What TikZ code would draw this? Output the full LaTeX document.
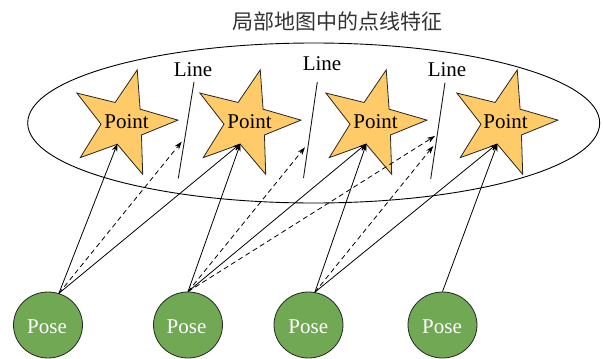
\documentclass[tikz,border=0pt]{standalone}
\usepackage{fontspec}
\setmainfont{Liberation Serif}
\newfontfamily\cjk{Noto Sans CJK SC}
\usetikzlibrary{shapes.geometric,arrows.meta,calc}
\definecolor{starfill}{RGB}{255,202,104}
\definecolor{posefill}{RGB}{112,168,84}
\begin{document}
\begin{tikzpicture}[x=1pt,y=-1pt,
  starbox/.style={star,star points=5,star point ratio=2.5,minimum size=110pt,inner sep=0pt,
    draw=black!85,fill=starfill,line width=0.8pt,shape border rotate=-15},
  posebox/.style={ellipse,minimum width=69pt,minimum height=66pt,inner sep=0pt,
    draw=black!85,fill=posefill,line width=0.8pt},
  txt/.style={font=\fontsize{21}{21}\selectfont,inner sep=0pt,anchor=base},
  linefeat/.style={line width=0.9pt,draw=black!90},
  solidarrow/.style={line width=0.8pt,-{Stealth[length=8pt,width=5.5pt]}},
  dasharrow/.style={line width=0.8pt,dash pattern=on 5pt off 3.5pt,-{Stealth[length=8pt,width=5.5pt]}}
]
\useasboundingbox (0,0) rectangle (603,359);

% title
\node[font=\cjk\fontsize{21}{21}\selectfont,text=black!80,inner sep=0pt] (title) at (337,21.7) {局部地图中的点线特征};

% map ellipse
\node[draw,ellipse,line width=0.9pt,minimum width=572pt,minimum height=160pt,inner sep=0pt] (map) at (313.7,123) {};

% stars
\node[starbox] (s1) at (123,123) {};
\node[starbox] (s2) at (246,123) {};
\node[starbox] (s3) at (372,123) {};
\node[starbox] (s4) at (503,123) {};
\node[txt] (t1) at (126.5,128.3) {Point};
\node[txt] (t2) at (249.5,128.3) {Point};
\node[txt] (t3) at (375.5,128.3) {Point};
\node[txt] (t4) at (505.5,128.3) {Point};

% line features
\coordinate (l1a) at (194,82);   \coordinate (l1b) at (178.3,178.3);
\coordinate (l2a) at (317.3,82); \coordinate (l2b) at (303.5,178);
\coordinate (l3a) at (445,82.7); \coordinate (l3b) at (430.7,179);
\draw[linefeat] (l1a) -- (l1b);
\draw[linefeat] (l2a) -- (l2b);
\draw[linefeat] (l3a) -- (l3b);
\node[txt] (lt1) at (193,76.7) {Line};
\node[txt] (lt2) at (322,70) {Line};
\node[txt] (lt3) at (447,76.7) {Line};

% poses
\node[posebox] (p1) at (48,325) {};
\node[posebox] (p2) at (188,325) {};
\node[posebox] (p3) at (308.5,325) {};
\node[posebox] (p4) at (442.5,325) {};
\node[txt,text=white] (pt1) at (47,333.3) {Pose};
\node[txt,text=white] (pt2) at (186.5,333.3) {Pose};
\node[txt,text=white] (pt3) at (308.3,333.3) {Pose};
\node[txt,text=white] (pt4) at (442,333.3) {Pose};

% targets
\coordinate (s1in) at ($(s1)+(-5.5,20.5)$);
\coordinate (s2in) at ($(s2)+(-5.5,20.5)$);
\coordinate (s3in) at ($(s3)+(-5.5,20.5)$);
\coordinate (s4in) at ($(s4)+(-5.5,20.5)$);
\coordinate (d1) at (181.7,141.7);
\coordinate (d2) at (305,147.3);
\coordinate (d3a) at (435,136);
\coordinate (d3b) at (433.3,146);

% connectors
\draw[solidarrow] (p1.71) -- (s1in);
\draw[dasharrow] (p1.71) -- (d1);
\draw[solidarrow] (p1.71) -- (s2in);

\draw[solidarrow] (p2.90) -- (s2in);
\draw[dasharrow] (p2.90) -- (d2);
\draw[solidarrow] (p2.90) -- (s3in);
\draw[dasharrow] (p2.90) -- (d3a);

\draw[solidarrow] (p3.79) -- (s3in);
\draw[dasharrow] (p3.79) -- (d3b);
\draw[solidarrow] (p3.79) -- (s4in);

\draw[solidarrow] (p4.90) -- (s4in);
\end{tikzpicture}
\end{document}
